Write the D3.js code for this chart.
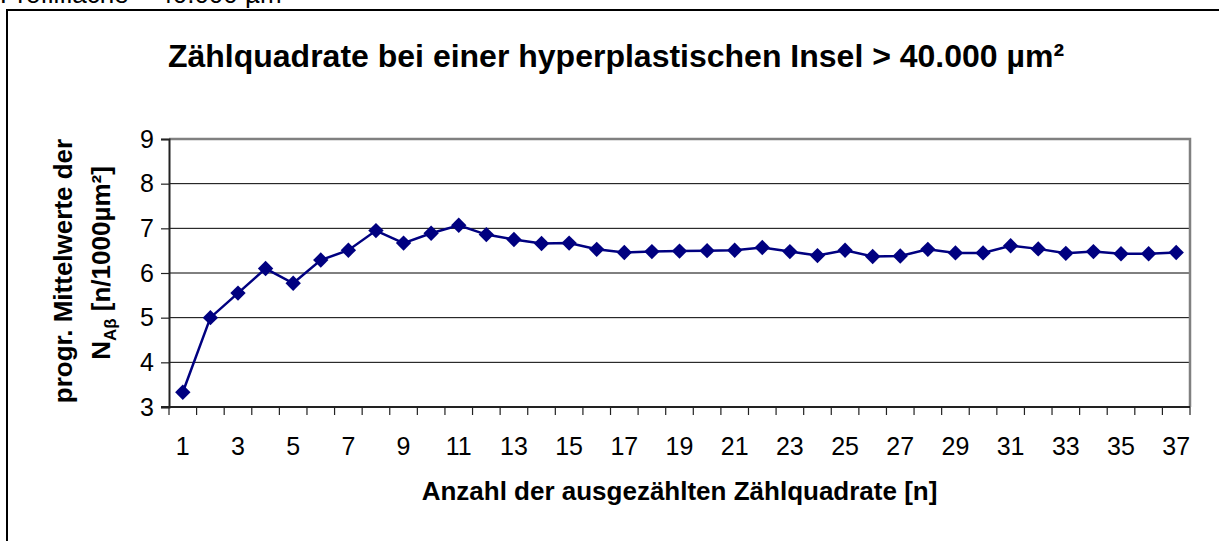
<!DOCTYPE html>
<html>
<head>
<meta charset="utf-8">
<script src="https://cdn.jsdelivr.net/npm/d3@7"></script>
<style>
  body { margin: 0; background: #fff; }
  text { font-family: Arial, "Liberation Sans", sans-serif; fill: #000; }
</style>
</head>
<body>
<svg></svg>
<script>
// number of counted squares (x categories)
let squares = d3.range(1, 38);
// progressive mean N_Ab per square
let means = [3.33, 5.0, 5.55, 6.1, 5.77, 6.29, 6.51, 6.95, 6.67, 6.89,
             7.07, 6.86, 6.75, 6.66, 6.67, 6.53, 6.46, 6.48, 6.49, 6.5,
             6.51, 6.57, 6.48, 6.39, 6.51, 6.37, 6.38, 6.53, 6.45, 6.45,
             6.61, 6.54, 6.44, 6.48, 6.43, 6.43, 6.46];
let yTicks = [3, 4, 5, 6, 7, 8, 9];
let xLabels = squares.filter(d => d % 2 === 1);

let data = squares.map((n, i) => ({n: n, v: means[i]}));

let width = 1219;
let height = 541;
let plot = {left: 169, right: 1190, top: 139, bottom: 407};

let svg = d3.select("svg")
            .attr("width", width)
            .attr("height", height);

let xScale = d3.scaleBand()
               .domain(squares)
               .range([plot.left, plot.right])
               .paddingInner(0);

let yScale = d3.scaleLinear()
               .domain([3, 9])
               .range([plot.bottom, plot.top]);

// text above the chart, cut off by the page edge (as in the source)
svg.append("text")
   .attr("x", 0)
   .attr("y", 3)
   .style("font-size", "26px")
   .text("Profilfläche  =  40.000 µm²");

// outer chart frame (runs past right and bottom)
svg.append("rect")
   .attr("x", 7)
   .attr("y", 10)
   .attr("width", 1300)
   .attr("height", 700)
   .attr("fill", "none")
   .attr("stroke", "#000")
   .attr("stroke-width", 2);

// title
svg.append("text")
   .attr("x", 616)
   .attr("y", 67)
   .attr("text-anchor", "middle")
   .style("font-size", "32px")
   .style("font-weight", "bold")
   .text("Zählquadrate bei einer hyperplastischen Insel > 40.000 µm²");

// gridlines
svg.append("g")
   .selectAll("line")
   .data(yTicks.slice(1))
   .enter()
   .append("line")
     .attr("x1", plot.left)
     .attr("x2", plot.right)
     .attr("y1", d => yScale(d))
     .attr("y2", d => yScale(d))
     .attr("stroke", "#000")
     .attr("stroke-width", 1);

// plot area border (grey, top + right)
svg.append("path")
   .attr("d", `M${plot.left},${yScale(9)}H${plot.right}V${yScale(3)}`)
   .attr("fill", "none")
   .attr("stroke", "#808080")
   .attr("stroke-width", 2.5);

// y axis
let yAxis = svg.append("g")
               .attr("transform", `translate(${plot.left},0)`)
               .call(d3.axisLeft(yScale)
                       .tickValues(yTicks)
                       .tickFormat(d3.format("d"))
                       .tickSize(8)
                       .tickPadding(7));
yAxis.select(".domain").attr("stroke", "#222").attr("stroke-width", 2);
yAxis.selectAll(".tick line").attr("stroke", "#222").attr("stroke-width", 1.2);
yAxis.selectAll("text")
     .attr("fill", "#000")
     .style("font-size", "25px")
     .style("font-family", "Arial, 'Liberation Sans', sans-serif");

// x axis: ticks sit between categories
let xAxisG = svg.append("g");
xAxisG.append("line")
      .attr("x1", plot.left - 8)
      .attr("x2", plot.right)
      .attr("y1", plot.bottom)
      .attr("y2", plot.bottom)
      .attr("stroke", "#222")
      .attr("stroke-width", 2);
xAxisG.selectAll(".xtick")
      .data(squares.concat([38]))
      .enter()
      .append("line")
        .attr("class", "xtick")
        .attr("x1", d => d <= 37 ? xScale(d) : xScale(37) + xScale.bandwidth())
        .attr("x2", d => d <= 37 ? xScale(d) : xScale(37) + xScale.bandwidth())
        .attr("y1", plot.bottom)
        .attr("y2", plot.bottom + 8)
        .attr("stroke", "#222")
        .attr("stroke-width", 1.2);
xAxisG.selectAll(".xlabel")
      .data(xLabels)
      .enter()
      .append("text")
        .attr("class", "xlabel")
        .attr("x", d => xScale(d) + xScale.bandwidth() / 2)
        .attr("y", 455)
        .attr("text-anchor", "middle")
        .style("font-size", "25px")
        .text(d => d);

// x axis title
svg.append("text")
   .attr("x", (plot.left + plot.right) / 2)
   .attr("y", 500)
   .attr("text-anchor", "middle")
   .style("font-size", "26px")
   .style("font-weight", "bold")
   .text("Anzahl der ausgezählten Zählquadrate [n]");

// y axis title, two lines
svg.append("text")
   .attr("transform", "translate(72,271) rotate(-90)")
   .attr("text-anchor", "middle")
   .style("font-size", "26px")
   .style("font-weight", "bold")
   .text("progr. Mittelwerte der");

let yLab2 = svg.append("text")
   .attr("transform", "translate(110,263) rotate(-90)")
   .attr("text-anchor", "middle")
   .style("font-size", "26px")
   .style("font-weight", "bold");
yLab2.append("tspan").text("N");
yLab2.append("tspan")
     .attr("dy", 6)
     .style("font-size", "17px")
     .text("Aβ");
yLab2.append("tspan")
     .attr("dy", -6)
     .text(" [n/1000µm²]");

// series line
let line = d3.line()
             .x(d => xScale(d.n) + xScale.bandwidth() / 2)
             .y(d => yScale(d.v));

svg.append("path")
   .datum(data)
   .attr("d", line)
   .attr("fill", "none")
   .attr("stroke", "#000080")
   .attr("stroke-width", 2.5);

// diamond markers
let diamond = d3.symbol().type(d3.symbolSquare).size(118);
svg.selectAll(".marker")
   .data(data)
   .enter()
   .append("path")
     .attr("class", "marker")
     .attr("d", diamond)
     .attr("transform", d => `translate(${xScale(d.n) + xScale.bandwidth() / 2},${yScale(d.v)}) rotate(45)`)
     .attr("fill", "#000080");
</script>
</body>
</html>
